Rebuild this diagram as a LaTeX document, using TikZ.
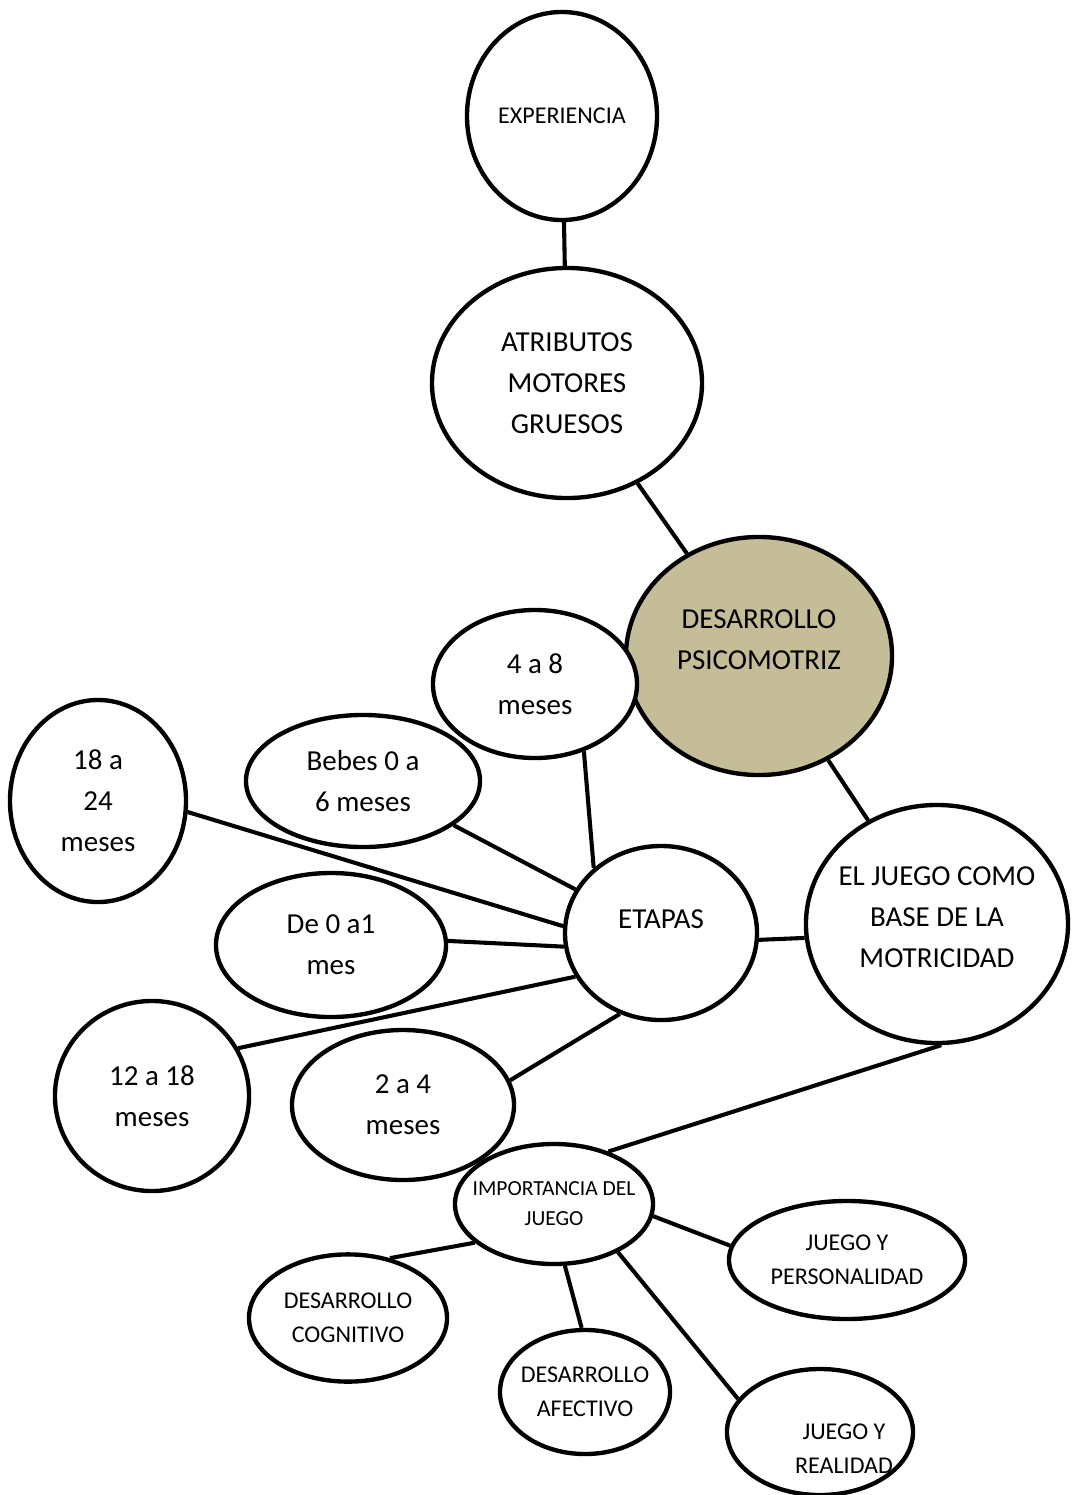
\documentclass[tikz,border=0pt]{standalone}
\usepackage{fontspec}
\setmainfont{Carlito}
\usetikzlibrary{shapes.geometric}

\begin{document}
\begin{tikzpicture}[x=0.025cm, y=-0.025cm, line width=2.9pt,
  bub/.style={ellipse, draw=black, fill=white, line width=3.1pt, inner sep=0pt},
  big/.style={font=\fontsize{20.6}{29.2}\selectfont, align=center},
  mid/.style={font=\fontsize{17.1}{24.2}\selectfont, align=center},
  sml/.style={font=\fontsize{15.3}{21.3}\selectfont, align=center}]
\useasboundingbox (0,0) rectangle (1072,1495);
\definecolor{tan}{HTML}{C4BD97}
% top chain
\node (exp) at (562,116) [bub, minimum width=4.75cm, minimum height=5.2cm, label={[mid]center:EXPERIENCIA}] {};
\node (atr) at (567,383) [bub, minimum width=6.75cm, minimum height=5.75cm, label={[big]center:{ATRIBUTOS\\MOTORES\\GRUESOS}}] {};
\node (des) at (759,656) [bub, fill=tan, minimum width=6.65cm, minimum height=5.95cm, label={[big, yshift=0.4cm]center:{DESARROLLO\\PSICOMOTRIZ}}] {};
% etapas
\node (m1824) at (98,801) [bub, minimum width=4.4cm, minimum height=5.05cm, label={[big]center:{18 a\\24\\meses}}] {};
\node (beb) at (363,781) [bub, minimum width=5.85cm, minimum height=3.3cm, label={[big]center:{Bebes 0 a\\6 meses}}] {};
\node (m48) at (535,684) [bub, minimum width=5.1cm, minimum height=3.7cm, label={[big]center:{4 a 8\\meses}}] {};
\node (etapas) at (661,933) [bub, minimum width=4.8cm, minimum height=4.35cm, label={[big, yshift=0.35cm]center:ETAPAS}] {};
\node (m01) at (331,945) [bub, minimum width=5.75cm, minimum height=3.6cm, label={[big]center:{De 0 a1\\mes}}] {};
\node (juego) at (937,924) [bub, minimum width=6.55cm, minimum height=5.95cm, label={[big, yshift=0.18cm]center:{EL JUEGO COMO\\BASE DE LA\\MOTRICIDAD}}] {};
\node (m1218) at (152,1096) [bub, minimum width=4.85cm, minimum height=4.75cm, label={[big]center:{12 a 18\\meses}}] {};
\node (m24) at (403,1105) [bub, minimum width=5.55cm, minimum height=3.75cm, label={[big]center:{2 a 4\\meses}}] {};
% importancia
\node (imp) at (554,1204) [bub, minimum width=4.95cm, minimum height=3.0cm, label={[sml]center:{IMPORTANCIA DEL\\JUEGO}}] {};
\node (pers) at (847,1260) [bub, minimum width=5.9cm, minimum height=2.95cm, label={[mid]center:{JUEGO Y\\PERSONALIDAD}}] {};
\node (cog) at (348,1318) [bub, minimum width=4.95cm, minimum height=3.18cm, label={[mid]center:{DESARROLLO\\COGNITIVO}}] {};
\node (afe) at (585,1392) [bub, minimum width=4.25cm, minimum height=3.1cm, label={[mid]center:{DESARROLLO\\AFECTIVO}}] {};
\node (real) at (820,1432) [bub, minimum width=4.65cm, minimum height=3.15cm, label={[mid, xshift=0.6cm, yshift=-0.42cm]center:{JUEGO Y\\REALIDAD}}] {};

\draw (exp) -- (atr);
\draw (atr) -- (des);
\draw (des) -- (juego);
\draw (m48.-54) -- (etapas.136);
\draw (beb.-26) -- (etapas.153);
\draw (m1824.-7) -- (etapas.176);
\draw (m01.2) -- (etapas.188);
\draw (m1218.29) -- (etapas.207);
\draw (m24.13) -- (etapas.243);
\draw (etapas.-4) -- (juego.186);
\draw (juego.-88) -- (imp.44);
\draw (imp.206) -- (cog.55);
\draw (imp.-80) -- (afe.93);
\draw (imp.-7) -- (pers.173);
\draw (imp.-37) -- (real.158);
\end{tikzpicture}
\end{document}
